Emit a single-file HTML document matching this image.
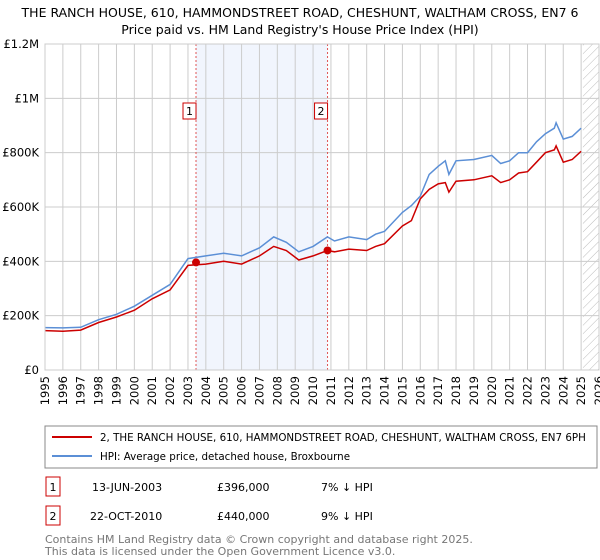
<!DOCTYPE html>
<html><head><meta charset="utf-8"><style>
body{margin:0;background:#fff;font-family:"DejaVu Sans","Liberation Sans",sans-serif;}
#wrap{position:relative;width:600px;height:560px;overflow:hidden}
</style></head><body>
<div id="wrap">
<svg id="chart" width="600" height="560" xmlns="http://www.w3.org/2000/svg" font-family="DejaVu Sans, Liberation Sans, sans-serif">
<defs><pattern id="hatch" width="6" height="6" patternUnits="userSpaceOnUse" patternTransform="rotate(45)"><line x1="0" y1="0" x2="0" y2="6" stroke="#bbb" stroke-width="1"/></pattern></defs>
<text x="300" y="17" text-anchor="middle" font-size="12.5" fill="#000">THE RANCH HOUSE, 610, HAMMONDSTREET ROAD, CHESHUNT, WALTHAM CROSS, EN7 6</text>
<text x="300" y="34" text-anchor="middle" font-size="12.5" fill="#000">Price paid vs. HM Land Registry's House Price Index (HPI)</text>
<g id="plot"></g>
<rect x="45" y="426" width="552" height="42" fill="#fff" stroke="#888"/>
<line x1="52" y1="437" x2="92" y2="437" stroke="#cc0000" stroke-width="2"/>
<text x="100" y="441" font-size="10.3">2, THE RANCH HOUSE, 610, HAMMONDSTREET ROAD, CHESHUNT, WALTHAM CROSS, EN7 6PH</text>
<line x1="52" y1="456" x2="92" y2="456" stroke="#5b8fd6" stroke-width="2"/>
<text x="100" y="460" font-size="10.3">HPI: Average price, detached house, Broxbourne</text>
<rect x="46" y="477" width="14" height="19" fill="#fff" stroke="#cc0000"/>
<text x="53" y="491" font-size="11" text-anchor="middle">1</text>
<text x="92" y="491" font-size="11">13-JUN-2003</text>
<text x="217" y="491" font-size="11">£396,000</text>
<text x="321" y="491" font-size="11">7% ↓ HPI</text>
<rect x="46" y="506" width="14" height="19" fill="#fff" stroke="#cc0000"/>
<text x="53" y="520" font-size="11" text-anchor="middle">2</text>
<text x="90" y="520" font-size="11">22-OCT-2010</text>
<text x="217" y="520" font-size="11">£440,000</text>
<text x="321" y="520" font-size="11">9% ↓ HPI</text>
<text x="45" y="543" font-size="11" fill="#777">Contains HM Land Registry data © Crown copyright and database right 2025.</text>
<text x="45" y="555" font-size="11" fill="#777">This data is licensed under the Open Government Licence v3.0.</text>
</svg>
</div>
<script>
const years = [1995,1996,1997,1998,1999,2000,2001,2002,2003,2004,2005,2006,2007,2007.8,2008.5,2009.2,2010,2010.8,2011.2,2012,2013,2013.5,2014,2015,2015.5,2016,2016.5,2017,2017.4,2017.6,2018,2019,2020,2020.5,2021,2021.5,2022,2022.5,2023,2023.5,2023.6,2024,2024.5,2025];
const hpiValues = [156,155,157,185,205,235,275,315,410,420,430,420,450,490,470,435,455,490,475,490,480,500,510,580,605,640,720,750,770,720,770,775,790,760,770,800,800,840,870,890,910,850,860,890];
const priceValues = [145,143,147,175,195,220,262,295,385,390,400,390,420,455,440,405,420,440,435,445,440,455,465,530,550,630,665,685,690,655,695,700,715,690,700,725,730,765,800,810,825,765,775,805];
const saleYears = [2003.45,2010.81];
const salePrices = [396,440];
const saleLabels = ['1','2'];
const yTicks = [0,200,400,600,800,1000,1200];
const yTickLabels = ['£0','£200K','£400K','£600K','£800K','£1M','£1.2M'];
const xStart = 1995, xEnd = 2026;

const L=45,R=599,T=44,B=370;
const xs = y => L + (y - xStart) * (R - L) / (xEnd - xStart);
const ys = v => B - v * (B - T) / 1200;
const NS='http://www.w3.org/2000/svg';
const g=document.getElementById('plot');
function mk(tag,attrs){const e=document.createElementNS(NS,tag);for(const k in attrs)e.setAttribute(k,attrs[k]);g.appendChild(e);return e;}

const shade=mk('rect',{x:xs(saleYears[0]),y:T,width:xs(saleYears[1])-xs(saleYears[0]),height:B-T,fill:'#eef3fc',opacity:0.8});


const hat=mk('rect',{x:xs(2025.1),y:T,width:R-xs(2025.1),height:B-T,fill:'url(#hatch)'});



for(let y=xStart;y<=xEnd;y++){
  const gl=mk('line',{x1:xs(y),y1:T,x2:xs(y),y2:B,stroke:'#ccc','stroke-width':1});
  
  
  const tx=xs(y)+4, ty=B+6;
  const t=mk('text',{x:tx,y:ty,'font-size':11.5,'text-anchor':'end',transform:'rotate(-90 '+tx+' '+ty+')'});
  t.textContent=y;
  
  
}
yTicks.forEach((v,i)=>{
  const gl=mk('line',{x1:L,y1:ys(v),x2:R,y2:ys(v),stroke:'#ccc','stroke-width':1});
  
  
  const t=mk('text',{x:L-6,y:ys(v)+4,'font-size':11.5,'text-anchor':'end'});
  t.textContent=yTickLabels[i];
  
  
});
saleYears.forEach((yr,i)=>{
  const l=mk('line',{x1:xs(yr),y1:T,x2:xs(yr),y2:B,stroke:'#e05555','stroke-width':1,'stroke-dasharray':'2,2'});
  
  
});
function path(vals,color,name){
  const d=years.map((y,i)=>(i?'L':'M')+xs(y).toFixed(1)+','+ys(vals[i]).toFixed(1)).join('');
  const p=mk('path',{d:d,fill:'none',stroke:color,'stroke-width':1.5});
  
  
}
path(hpiValues,'#5b8fd6','hpi-line');
path(priceValues,'#cc0000','price-line');
saleYears.forEach((yr,i)=>{
  const c=mk('circle',{cx:xs(yr),cy:ys(salePrices[i]),r:4,fill:'#cc0000'});
  
  
  const bx=mk('rect',{x:xs(yr)-13,y:103,width:13,height:16,fill:'#fff',stroke:'#cc0000'});
  
  
  const t=mk('text',{x:xs(yr)-6.5,y:115,'font-size':11,'text-anchor':'middle'});
  t.textContent=saleLabels[i];
  
  
});
const ax=mk('rect',{x:L,y:T,width:R-L,height:B-T,fill:'none',stroke:'#ccc'});


</script>
</body></html>
